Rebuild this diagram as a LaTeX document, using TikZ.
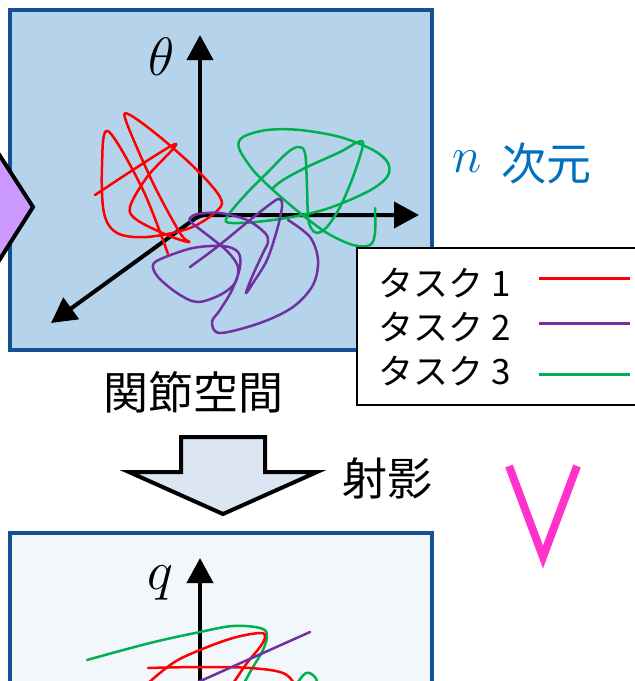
\RequirePackage{fix-cm}
\documentclass[tikz,border=0pt]{standalone}
\usepackage{fontspec}
\newfontfamily\jp{Noto Sans CJK JP}
\usetikzlibrary{arrows.meta}
\definecolor{boxblue}{RGB}{181,212,236}
\definecolor{edgeblue}{RGB}{18,82,148}
\definecolor{lightbox}{RGB}{242,247,252}
\definecolor{lav}{RGB}{204,153,255}
\definecolor{arrowfill}{RGB}{220,230,242}
\definecolor{tred}{RGB}{255,0,0}
\definecolor{tpurple}{RGB}{112,48,160}
\definecolor{tgreen}{RGB}{0,176,80}
\definecolor{dimblue}{RGB}{0,112,192}
\definecolor{mag}{RGB}{255,51,204}
\tikzset{
  panel/.style={draw=edgeblue, line width=4pt},
  axisline/.style={line width=4pt},
  bigtip/.tip={Triangle[length=25pt,width=26pt]},
  scribble/.style={line width=2.5pt, line join=round, line cap=round},
  jplabel/.style={font=\jp\fontsize{45}{50}\selectfont, inner sep=0pt},
  legtext/.style={font=\jp\fontsize{35}{40}\selectfont, inner sep=0pt, anchor=west},
  legline/.style={line width=3pt},
  axislabel/.style={font=\fontsize{54}{60}\selectfont, inner sep=0pt},
}
\begin{document}
\begin{tikzpicture}[x=1pt,y=-1pt]
\useasboundingbox (0,0) rectangle (635,681);
% top panel
\draw[panel, fill=boxblue] (10,10) rectangle (432,350);
% purple arrow from left
\draw[line width=4pt, fill=lav, line join=miter] (-40,94) -- (33,207) -- (-40,322) -- cycle;
% axes
\coordinate (o) at (200,215);
\coordinate (ty) at (200,35);
\coordinate (tx) at (419,215);
\coordinate (tz) at (51,323);
\draw[axisline, -bigtip] (200,217) -- (ty);
\draw[axisline, bigtip-bigtip, rounded corners=6pt] (tz) -- (o) -- (tx);
\node[axislabel] (theta) at (162,57) {$\theta$};
% scribbles
\draw[scribble, tred] plot[smooth, tension=0.55] coordinates {(168,254) (143,190) (108,131) (102,167) (104,213) (117,233) (147,237) (190,228) (218,210) (220,197) (197,170) (160,137) (130,115) (126,121) (153,183) (180,233) (189,242) (167,235) (137,220) (130,207) (147,177) (175,144) (95,195)};
\draw[scribble, tgreen] plot[smooth, tension=0.55] coordinates {(273,188) (283,180) (307,167) (340,152) (358,142) (363,145) (353,177) (340,207) (327,227) (317,233) (311,228) (308,217) (307,187) (305,153) (298,147) (287,153) (267,173) (247,193) (227,217) (232,223) (273,220) (323,210) (367,192) (387,177) (388,163) (373,150) (340,137) (300,130) (267,130) (243,137) (239,148) (253,170) (273,190) (300,213) (327,233) (353,245) (370,245) (375,233) (375,208)};
\draw[scribble, tpurple] plot[smooth, tension=0.55] coordinates {(190,267) (217,247) (250,220) (273,202) (280,199) (282,207) (277,230) (267,260) (253,283) (246,293) (252,277) (263,253) (268,242) (265,233) (247,220) (220,213) (198,214) (190,218) (192,223) (210,237) (228,252) (238,267) (235,283) (220,295) (197,302) (177,293) (158,277) (153,265) (163,258) (193,248) (223,246) (238,252) (240,267) (232,290) (220,310) (212,322) (220,333) (260,323) (293,307) (313,285) (318,260) (310,237) (288,220)};
% n-dimension label
\node[font=\fontsize{50}{56}\selectfont, text=dimblue, inner sep=0pt] (nsym) at (467,162) {$n$};
\node[jplabel, text=dimblue] (dim) at (546,163) {次元};
% legend
\draw[line width=2pt, fill=white] (357,248) rectangle (660,405);
\node[legtext] (l1) at (378,283) {タスク 1};
\node[legtext] (l2) at (378,327) {タスク 2};
\node[legtext] (l3) at (378,371) {タスク 3};
\coordinate (a1) at (539,278); \coordinate (b1) at (630,278);
\coordinate (a2) at (539,323); \coordinate (b2) at (630,323);
\coordinate (a3) at (539,374); \coordinate (b3) at (630,374);
\draw[legline, tred] (a1) -- (b1);
\draw[legline, tpurple] (a2) -- (b2);
\draw[legline, tgreen] (a3) -- (b3);
% joint space label
\node[jplabel] (joint) at (193,392) {関節空間};
% projection arrow
\draw[line width=4pt, fill=arrowfill, line join=miter] (181,437) -- (265,437) -- (265,472) -- (317,472) -- (223,514) -- (129,472) -- (181,472) -- cycle;
\node[jplabel] (proj) at (387,478) {射影};
% magenta V
\draw[mag, line width=8pt, line join=miter] (509,466) -- (543,557) -- (577,466);
% bottom panel
\draw[panel, fill=lightbox] (10,533) rectangle (432,720);
\coordinate (qo) at (200,700);
\coordinate (qt) at (200,558);
\draw[axisline, -bigtip] (qo) -- (qt);
\node[axislabel, font=\fontsize{55}{60}\selectfont] (qlab) at (160,583) {$q$};
\draw[scribble, tgreen] plot[smooth, tension=0.6] coordinates {(87,660) (150,643) (200,632) (233,626) (260,628) (267,635) (263,650) (253,667) (243,685)};
\draw[scribble, tred] plot[smooth, tension=0.6] coordinates {(146,685) (173,663) (200,650) (233,638) (260,633) (265,637) (260,647) (247,663) (232,685)};
\draw[scribble, tred] plot[smooth, tension=0.6] coordinates {(148,668) (200,667) (250,668) (283,673) (295,685)};
\draw[scribble, tpurple] (196,683) -- (310,632);
\draw[scribble, tgreen] plot[smooth, tension=0.6] coordinates {(296,685) (306,673) (315,677) (318,686)};
\end{tikzpicture}
\end{document}
